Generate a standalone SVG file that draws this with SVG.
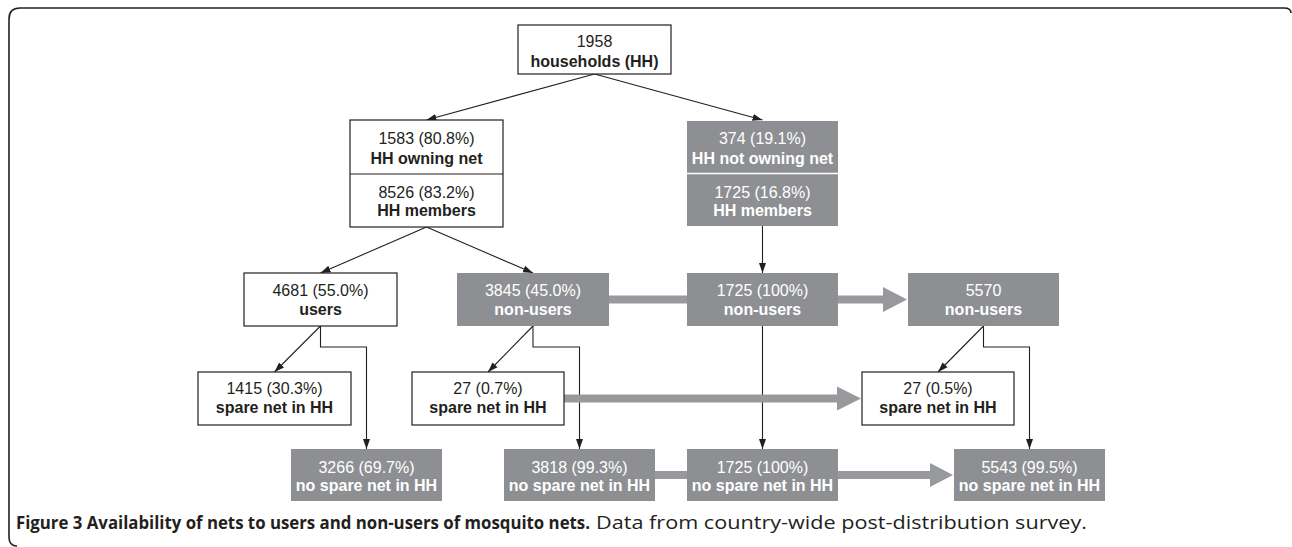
<svg xmlns="http://www.w3.org/2000/svg" width="1292" height="547" viewBox="0 0 1292 547">
<defs>
<style>
.bw{fill:#ffffff;stroke:#231f20;stroke-width:1.2}
.bg{fill:#8e8f92;stroke:none}
.t{font-family:"Liberation Sans",Arial,sans-serif;font-size:16px;text-anchor:middle;fill:#231f20}
.tg{font-family:"Liberation Sans",Arial,sans-serif;font-size:16px;text-anchor:middle;fill:#ffffff}
.b{font-weight:bold}
.ln{fill:none;stroke:#231f20;stroke-width:1.1}
.bar{fill:#98999c;stroke:none}
.cap{font-family:"Open Sans","Noto Sans",sans-serif;font-size:17.5px;fill:#231f20}
</style>
<marker id="ah" markerUnits="userSpaceOnUse" markerWidth="10" markerHeight="8" viewBox="0 0 10 8" refX="10" refY="4" orient="auto">
<path d="M0,0.5 L10,4 L0,7.5 Z" fill="#231f20"/>
</marker>
</defs>
<rect x="0" y="0" width="1292" height="547" fill="#ffffff"/>
<path d="M1291,13 Q1291,8 1284,8 L20,8 Q9,8 9,19 L9,537 Q9,546 17,546" fill="none" stroke="#231f20" stroke-width="1.6"/>

<g id="connectors">
<line class="ln" x1="594.5" y1="74" x2="426.5" y2="120" marker-end="url(#ah)"/>
<line class="ln" x1="594.5" y1="74" x2="762.5" y2="120" marker-end="url(#ah)"/>
<line class="ln" x1="426.5" y1="227" x2="320.5" y2="273" marker-end="url(#ah)"/>
<line class="ln" x1="426.5" y1="227" x2="533" y2="273" marker-end="url(#ah)"/>
<line class="ln" x1="762.5" y1="226" x2="762.5" y2="273" marker-end="url(#ah)"/>
<line class="ln" x1="320.5" y1="326" x2="274.5" y2="372" marker-end="url(#ah)"/>
<line class="ln" x1="533" y1="326" x2="488" y2="372" marker-end="url(#ah)"/>
<line class="ln" x1="983.5" y1="326" x2="938" y2="372" marker-end="url(#ah)"/>
<path class="ln" d="M320.5,326 V347 H366.5 V449" marker-end="url(#ah)"/>
<path class="ln" d="M533,326 V347 H579.5 V449" marker-end="url(#ah)"/>
<path class="ln" d="M983.5,326 V347 H1029.5 V449" marker-end="url(#ah)"/>
<line class="ln" x1="762.5" y1="326" x2="762.5" y2="449" marker-end="url(#ah)"/>
<rect class="bar" x="609" y="295.5" width="78" height="8"/>
<path class="bar" d="M838,295.5 H883 V287 L907,299.5 L883,312 V303.5 H838 Z"/>
<path class="bar" d="M564,394.5 H837 V386.5 L861,398.5 L837,410.5 V402.5 H564 Z"/>
<rect class="bar" x="655" y="471" width="32" height="8"/>
<path class="bar" d="M838,471 H930 V463 L953,475 L930,487 V479 H838 Z"/>
</g>

<g id="n-households">
<rect class="bw" x="518" y="25" width="153" height="49"/>
<text class="t" x="594.5" y="47">1958</text>
<text class="t b" x="594.5" y="67">households (HH)</text>
</g>
<g id="n-owning">
<rect class="bw" x="350" y="120" width="153" height="107"/>
<line class="ln" x1="350" y1="174" x2="503" y2="174"/>
<text class="t" x="426.5" y="144">1583 (80.8%)</text>
<text class="t b" x="426.5" y="163.5">HH owning net</text>
<text class="t" x="426.5" y="197.5">8526 (83.2%)</text>
<text class="t b" x="426.5" y="216">HH members</text>
</g>
<g id="n-notowning">
<rect class="bg" x="687" y="121" width="151" height="105"/>
<line x1="687" y1="173.5" x2="838" y2="173.5" stroke="#ffffff" stroke-width="1.5"/>
<text class="tg" x="762.5" y="144">374 (19.1%)</text>
<text class="tg b" x="762.5" y="163.5">HH not owning net</text>
<text class="tg" x="762.5" y="197.5">1725 (16.8%)</text>
<text class="tg b" x="762.5" y="216">HH members</text>
</g>
<g id="n-users">
<rect class="bw" x="244" y="273" width="153" height="53"/>
<text class="t" x="320.5" y="295.5">4681 (55.0%)</text>
<text class="t b" x="320.5" y="314.5">users</text>
</g>
<g id="n-nonusers1">
<rect class="bg" x="457" y="273" width="152" height="53"/>
<text class="tg" x="533" y="295.5">3845 (45.0%)</text>
<text class="tg b" x="533" y="314.5">non-users</text>
</g>
<g id="n-nonusers2">
<rect class="bg" x="687" y="273" width="151" height="53"/>
<text class="tg" x="762.5" y="295.5">1725 (100%)</text>
<text class="tg b" x="762.5" y="314.5">non-users</text>
</g>
<g id="n-nonusers3">
<rect class="bg" x="908" y="273" width="151" height="53"/>
<text class="tg" x="983.5" y="295.5">5570</text>
<text class="tg b" x="983.5" y="314.5">non-users</text>
</g>
<g id="n-spare1">
<rect class="bw" x="198" y="372" width="153" height="53"/>
<text class="t" x="274.5" y="394">1415 (30.3%)</text>
<text class="t b" x="274.5" y="413">spare net in HH</text>
</g>
<g id="n-spare2">
<rect class="bw" x="412" y="372" width="152" height="53"/>
<text class="t" x="488" y="394">27 (0.7%)</text>
<text class="t b" x="488" y="413">spare net in HH</text>
</g>
<g id="n-spare3">
<rect class="bw" x="862" y="372" width="152" height="53"/>
<text class="t" x="938" y="394">27 (0.5%)</text>
<text class="t b" x="938" y="413">spare net in HH</text>
</g>
<g id="n-nospare1">
<rect class="bg" x="291" y="449" width="151" height="52"/>
<text class="tg" x="366.5" y="472.5">3266 (69.7%)</text>
<text class="tg b" x="366.5" y="491">no spare net in HH</text>
</g>
<g id="n-nospare2">
<rect class="bg" x="504" y="449" width="151" height="52"/>
<text class="tg" x="579.5" y="472.5">3818 (99.3%)</text>
<text class="tg b" x="579.5" y="491">no spare net in HH</text>
</g>
<g id="n-nospare3">
<rect class="bg" x="687" y="449" width="151" height="52"/>
<text class="tg" x="762.5" y="472.5">1725 (100%)</text>
<text class="tg b" x="762.5" y="491">no spare net in HH</text>
</g>
<g id="n-nospare4">
<rect class="bg" x="954" y="449" width="151" height="52"/>
<text class="tg" x="1029.5" y="472.5">5543 (99.5%)</text>
<text class="tg b" x="1029.5" y="491">no spare net in HH</text>
</g>

<text class="cap" x="16" y="528.5" font-weight="bold" textLength="574" lengthAdjust="spacingAndGlyphs">Figure 3 Availability of nets to users and non-users of mosquito nets.</text>
<text class="cap" x="596" y="528.5" textLength="491" lengthAdjust="spacingAndGlyphs">Data from country-wide post-distribution survey.</text>
</svg>
